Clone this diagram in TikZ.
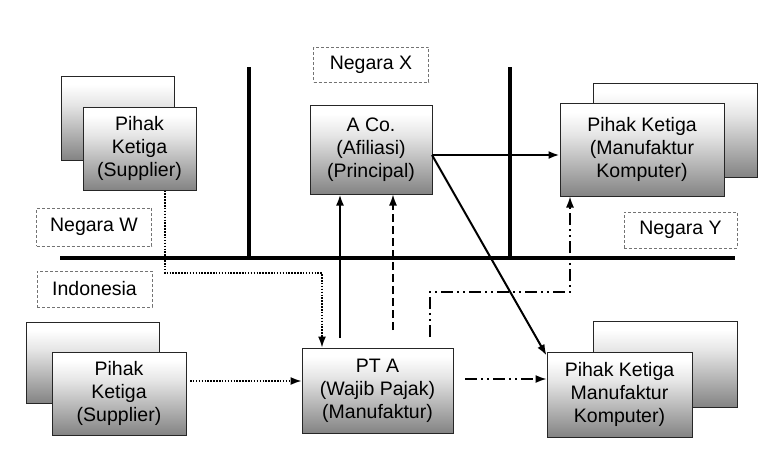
\documentclass[tikz,border=0pt]{standalone}
\usepackage{fontspec}
\setmainfont{Liberation Sans}
\usetikzlibrary{arrows.meta}
\pgfdeclareverticalshading{boxshade}{100bp}{color(0bp)=(black!62); color(22bp)=(black!52); color(58bp)=(black!10); color(70bp)=(white); color(100bp)=(white)}
\begin{document}
\begin{tikzpicture}[x=1pt,y=-1pt,
  box/.style={draw=black!85, line width=1pt, shading=boxshade, align=center, inner sep=0pt,
    font=\fontsize{19.5}{23}\selectfont},
  lbl/.style={draw=black!55, densely dashed, line width=0.6pt, fill=white, align=center, inner sep=0pt,
    font=\fontsize{19.5}{23}\selectfont},
  border/.style={line width=3.8pt, black},
  tip/.style={-{Latex[length=11pt,width=8pt]}},
  flow/.style={tip, line width=2pt},
  dflow/.style={tip, line width=1.5pt, dash pattern=on 8pt off 4pt},
  pflow/.style={tip, line width=1.5pt, dash pattern=on 1.5pt off 1.4pt},
  ddflow/.style={tip, line width=1.5pt, dash pattern=on 12pt off 4pt on 2pt off 4pt on 2pt off 4pt},
]
\useasboundingbox (0,0) rectangle (770,448);
\fill[white] (0,0) rectangle (770,448);

% borders
\draw[border] (60,258) -- (735,258);
\draw[border] (249,67) -- (249,258);
\draw[border] (510,67) -- (510,258);

% country labels
\node[lbl, minimum width=115pt, minimum height=35pt] (negX) at (371,64.5) {Negara X};
\node[lbl, minimum width=115pt, minimum height=38pt] (negW) at (94,227) {Negara W};
\node[lbl, minimum width=115pt, minimum height=36pt] (indo) at (94.5,289) {Indonesia};
\node[lbl, minimum width=113pt, minimum height=36pt] (negY) at (680.5,230) {Negara Y};

% boxes
\node[box, minimum width=113pt, minimum height=84pt] (sup1back) at (117.5,118) {};
\node[box, minimum width=113pt, minimum height=83pt] (sup1) at (139.5,148.5) {Pihak\\Ketiga\\(Supplier)};
\node[box, minimum width=122pt, minimum height=89pt] (aco) at (371,149.5) {A Co.\\(Afiliasi)\\(Principal)};
\node[box, minimum width=164pt, minimum height=94pt] (man1back) at (675,130) {};
\node[box, minimum width=164pt, minimum height=93pt] (man1) at (642,149.5) {Pihak Ketiga\\(Manufaktur\\Komputer)};
\node[box, minimum width=133pt, minimum height=81pt] (sup2back) at (92.5,362.5) {};
\node[box, minimum width=134pt, minimum height=83pt] (sup2) at (119,393.5) {Pihak\\Ketiga\\(Supplier)};
\node[box, minimum width=151pt, minimum height=85pt] (pta) at (377.5,390.5) {PT A\\(Wajib Pajak)\\(Manufaktur)};
\node[box, minimum width=144pt, minimum height=86pt] (man2back) at (665,364) {};
\node[box, minimum width=145pt, minimum height=85pt] (man2) at (619.5,394.5) {Pihak Ketiga\\Manufaktur\\Komputer)};

% connectors
\coordinate (s1) at (340,338);
\draw[flow] (s1) -- (s1 |- aco.south);
\coordinate (s2) at (393,330);
\draw[dflow] (s2) -- (s2 |- aco.south);
\coordinate (s3) at (165,273);
\coordinate (s3b) at (322,273);
\draw[pflow] (s3 |- sup1.south) -- (s3) -- (s3b) -- (s3b |- pta.north);
\coordinate (d4) at (190,381);
\draw[pflow] (d4) -- (d4 -| pta.west);
\coordinate (d5) at (465,379);
\draw[ddflow] (d5) -- (d5 -| man2.west);
\coordinate (d6) at (430,337);
\coordinate (d6b) at (570,292);
\draw[ddflow] (d6) |- (d6b) -- (d6b |- man1.south);
\coordinate (a7) at (432,155);
\draw[flow] (a7) -- (a7 -| man1.west);
\draw[flow] (a7) -- ([yshift=-4pt]man2.north west);
\end{tikzpicture}
\end{document}
